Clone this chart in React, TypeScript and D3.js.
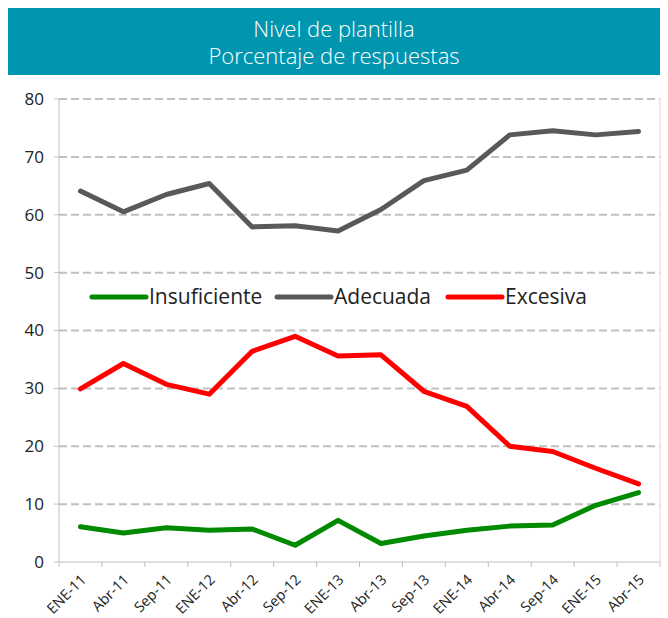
import React from "react";
import * as d3 from "d3";

const categories = ["ENE-11","Abr-11","Sep-11","ENE-12","Abr-12","Sep-12","ENE-13","Abr-13","Sep-13","ENE-14","Abr-14","Sep-14","ENE-15","Abr-15"];
const insuficiente = [6.1, 5.0, 5.9, 5.5, 5.7, 2.9, 7.2, 3.2, 4.5, 5.5, 6.2, 6.4, 9.8, 12.0];
const adecuada = [64.1, 60.5, 63.5, 65.4, 57.9, 58.1, 57.2, 60.9, 65.9, 67.7, 73.8, 74.5, 73.8, 74.4];
const excesiva = [29.9, 34.3, 30.7, 29.0, 36.4, 39.0, 35.6, 35.8, 29.5, 26.9, 20.0, 19.1, 16.2, 13.5];
const yTicks = [0, 10, 20, 30, 40, 50, 60, 70, 80];
const seriesNames = ["Insuficiente", "Adecuada", "Excesiva"];
const titleLines = ["Nivel de plantilla", "Porcentaje de respuestas"];

const W = 668, H = 618;
const left = 59, right = 660, top = 99, bottom = 562;
const font = "'Open Sans', 'Noto Sans', sans-serif";

export default function App() {
  const x = d3.scaleBand<string>().domain(categories).range([left, right]);
  const y = d3.scaleLinear().domain([0, 80]).range([bottom, top]);
  const line = d3.line<number>()
    .x((_, i) => (x(categories[i]) as number) + x.bandwidth() / 2)
    .y(d => y(d));
  const series = [
    { name: seriesNames[0], data: insuficiente, color: "#008a00" },
    { name: seriesNames[1], data: adecuada, color: "#595959" },
    { name: seriesNames[2], data: excesiva, color: "#ff0000" },
  ];
  const legendX = [92, 277, 448];
  const legendY = 297;
  return (
    <svg width={W} height={H} style={{ position: "absolute", left: 0, top: 0, display: "block" }}>
      <rect x={0} y={0} width={W} height={H} fill="#fff" />
      <rect x={8} y={8} width={652} height={67} fill="#0096b0" />
      {titleLines.map((t, i) => (
        <text key={i} x={334} y={37 + i * 27} textAnchor="middle" fill="#fff" fontFamily={font} fontWeight={300} fontSize={22}>{t}</text>
      ))}
      {yTicks.filter(v => v > 0).map(v => (
        <line key={v} x1={left} x2={right} y1={y(v)} y2={y(v)} stroke="#c0c0c0" strokeWidth={2} strokeDasharray="8,4" />
      ))}
      <line x1={right} x2={right} y1={top} y2={bottom} stroke="#d9d9d9" strokeWidth={1} />
      <line x1={left} x2={left} y1={top} y2={bottom} stroke="#bfbfbf" strokeWidth={1} />
      <line x1={left} x2={right} y1={bottom} y2={bottom} stroke="#bfbfbf" strokeWidth={1} />
      {yTicks.map(v => (
        <g key={v}>
          <line x1={left - 5} x2={left} y1={y(v)} y2={y(v)} stroke="#bfbfbf" />
          <text x={44} y={y(v)} dy="0.35em" textAnchor="end" fontFamily={font} fontSize={17} fill="#222">{v}</text>
        </g>
      ))}
      {categories.map((c, i) => (
        <line key={"t" + i} x1={x(c) as number} x2={x(c) as number} y1={bottom} y2={bottom + 5} stroke="#bfbfbf" />
      ))}
      <line x1={right} x2={right} y1={bottom} y2={bottom + 5} stroke="#bfbfbf" />
      {categories.map(c => {
        const cx = (x(c) as number) + x.bandwidth() / 2;
        return (
          <text key={c} transform={`translate(${cx + 3},${bottom + 15}) rotate(-45)`} textAnchor="end" dy="0.35em" fontFamily={font} fontSize={14.5} fill="#222">{c}</text>
        );
      })}
      {series.map(s => (
        <path key={s.name} d={line(s.data) || ""} fill="none" stroke={s.color} strokeWidth={5} strokeLinejoin="round" strokeLinecap="round" />
      ))}
      {series.map((s, i) => (
        <g key={"l" + i}>
          <line x1={legendX[i]} x2={legendX[i] + 54} y1={legendY} y2={legendY} stroke={s.color} strokeWidth={5} strokeLinecap="round" />
          <text x={legendX[i] + 57} y={legendY} dy="0.35em" fontFamily={font} fontSize={21} fill="#222">{s.name}</text>
        </g>
      ))}
    </svg>
  );
}
